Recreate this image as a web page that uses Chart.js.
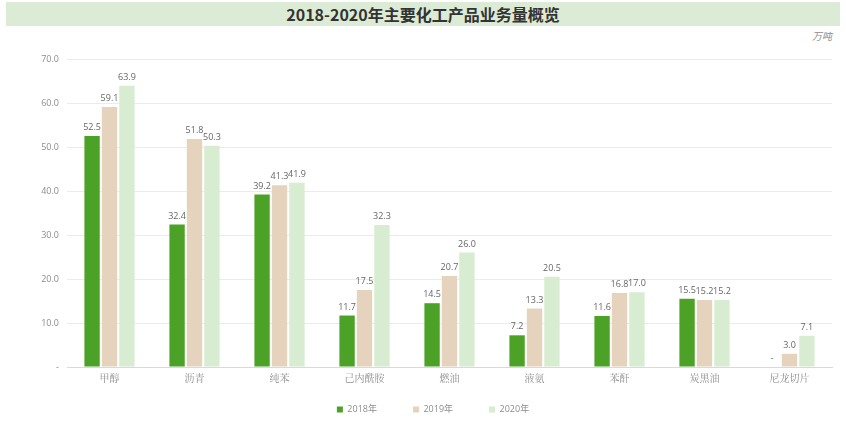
<!DOCTYPE html>
<html>
<head>
<meta charset="utf-8">
<script src="https://cdn.jsdelivr.net/npm/chart.js@4.4.0/dist/chart.umd.min.js"></script>
<style>
  body { margin: 0; background: #fff; }
  #wrap { position: relative; width: 846px; height: 426px; }
  #band { position: absolute; left: 6px; top: 2px; width: 834px; height: 24px; background: #dcebd5;
          font: bold 16px "Noto Sans CJK SC", "Noto Sans", sans-serif; color: #333; text-align: center; line-height: 24px; }
  #unit { position: absolute; right: 14px; top: 28px; font: italic 10px "Noto Sans CJK SC", sans-serif; color: #8c8c8c; }
  canvas { position: absolute; left: 0; top: 0; }
</style>
</head>
<body>
<div id="wrap">
  <div id="band">2018-2020年主要化工产品业务量概览</div>
  <div id="unit">万吨</div>
  <canvas id="myChart" width="846" height="426"></canvas>
</div>
<script>
// ---- data ----
var categories = ['甲醇', '沥青', '纯苯', '己内酰胺', '燃油', '液氨', '苯酐', '炭黑油', '尼龙切片'];
var seriesNames = ['2018年', '2019年', '2020年'];
var data2018 = [52.5, 32.4, 39.2, 11.7, 14.5, 7.2, 11.6, 15.5, 0];
var data2019 = [59.1, 51.8, 41.3, 17.5, 20.7, 13.3, 16.8, 15.2, 3.0];
var data2020 = [63.9, 50.3, 41.9, 32.3, 26.0, 20.5, 17.0, 15.2, 7.1];
var colors = ['#4ba226', '#e6d3bd', '#d7ecd0'];

// value labels above bars
var valueLabels = {
    id: 'valueLabels',
    afterDatasetsDraw: function (chart) {
        var ctx = chart.ctx;
        ctx.save();
        ctx.font = '9px "Open Sans", "Liberation Sans", sans-serif';
        ctx.fillStyle = '#666';
        ctx.textAlign = 'center';
        ctx.textBaseline = 'bottom';
        chart.data.datasets.forEach(function (ds, i) {
            chart.getDatasetMeta(i).data.forEach(function (bar, j) {
                var v = ds.data[j];
                var txt = v === 0 ? '-' : v.toFixed(1);
                ctx.fillText(txt, bar.x, bar.y - 4);
            });
        });
        ctx.restore();
    }
};

var defaultLabels = Chart.defaults.plugins.legend.labels.generateLabels;

var ctx = document.getElementById('myChart').getContext('2d');
var chart = new Chart(ctx, {
    type: 'bar',
    data: {
        labels: categories,
        datasets: [
            { label: seriesNames[0], data: data2018, backgroundColor: colors[0] },
            { label: seriesNames[1], data: data2019, backgroundColor: colors[1] },
            { label: seriesNames[2], data: data2020, backgroundColor: colors[2] }
        ]
    },
    options: {
        responsive: false,
        animation: false,
        layout: { padding: { top: 59, right: 14, bottom: 2, left: 34 } },
        datasets: {
            bar: { categoryPercentage: 0.615, barPercentage: 0.88 }
        },
        scales: {
            x: {
                grid: { display: false, drawTicks: false },
                border: { color: '#d9d9d9' },
                ticks: {
                    color: '#8c8c8c',
                    font: { family: '"Noto Serif CJK SC", "Noto Sans CJK SC", serif', size: 10 },
                    padding: 5
                },
                afterFit: function (s) { s.height = 20; }
            },
            y: {
                min: 0, max: 70,
                ticks: {
                    stepSize: 10,
                    color: '#8c8c8c',
                    font: { family: '"Open Sans", "Liberation Sans", sans-serif', size: 9 },
                    padding: 8,
                    callback: function (v) { return v === 0 ? '-' : v.toFixed(1); }
                },
                grid: { color: '#ebebeb', drawTicks: false },
                border: { display: false },
                afterFit: function (s) { s.width = 33; }
            }
        },
        plugins: {
            title: { display: false },
            tooltip: { enabled: false },
            legend: {
                position: 'bottom',
                labels: {
                    boxWidth: 6, boxHeight: 6,
                    padding: 18,
                    color: '#8c8c8c',
                    font: { family: '"Open Sans", "Noto Sans CJK SC", sans-serif', size: 9 },
                    generateLabels: function (c) {
                        var items = defaultLabels(c);
                        items.forEach(function (it, k) {
                            if (k < items.length - 1) it.text = it.text + '\u2003\u2003';
                        });
                        return items;
                    }
                }
            }
        }
    },
    plugins: [valueLabels]
});
</script>
</body>
</html>
